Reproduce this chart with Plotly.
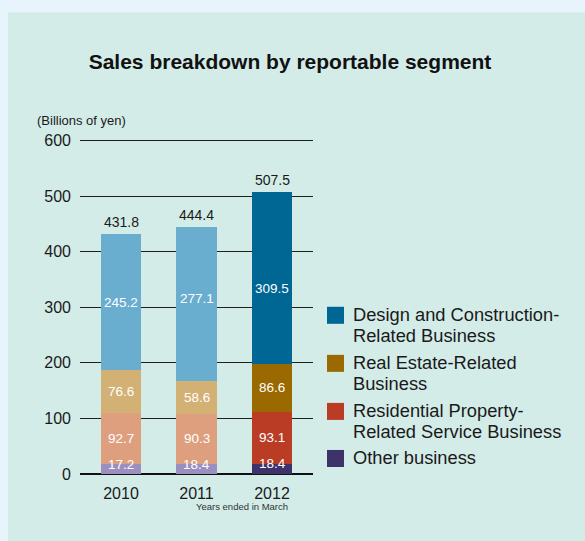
import plotly.graph_objects as go

# Fiscal years (ended in March)
years = ["2010", "2011", "2012"]

# Sales by segment, billions of yen
other_business = [17.2, 18.4, 18.4]
residential_service = [92.7, 90.3, 93.1]
real_estate = [76.6, 58.6, 86.6]
design_construction = [245.2, 277.1, 309.5]

totals = [431.8, 444.4, 507.5]
total_labels = ["431.8", "444.4", "507.5"]

y_ticks = [0, 100, 200, 300, 400, 500, 600]

segment_names = [
    "Other business",
    "Residential Property-<br>Related Service Business",
    "Real Estate-Related<br>Business",
    "Design and Construction-<br>Related Business",
]

# past years in pale tones, latest year in full tones
pale = ["#9b8fc0", "#dd9f7e", "#d3b174", "#69adcf"]
strong = ["#3d3269", "#bb3c25", "#9a6a00", "#006694"]

FONT = "Liberation Sans, Arial, Helvetica, sans-serif"

# plot area in pixels; value axis runs a little past 600 so its gridline shows
W, H = 585, 541
X0, X1 = 80, 313
Y_ZERO, Y_600 = 474, 141
Y_MAX = 610
PX_PER_UNIT = (Y_ZERO - Y_600) / 600
Y_TOP = Y_ZERO - Y_MAX * PX_PER_UNIT


def px_x(px):
    return (px - X0) / (X1 - X0)


def px_y(py):
    return (Y_ZERO - py) / (Y_ZERO - Y_TOP)


series = [other_business, residential_service, real_estate, design_construction]

fig = go.Figure()
for i, vals in enumerate(series):
    colors = [pale[i], pale[i], strong[i]]
    fig.add_trace(go.Bar(
        x=years, y=vals, name=segment_names[i].replace("<br>", " "),
        marker=dict(color=colors, line=dict(width=0)),
        width=0.53, showlegend=False, hoverinfo="skip",
    ))

annotations = []

# value labels inside each segment
label_shift = [
    [5, 4, 5],
    [0, 0, 0],
    [0, 0, 0],
    [0, 6, -11],
]
for j, yr in enumerate(years):
    base = 0.0
    for i, vals in enumerate(series):
        v = vals[j]
        annotations.append(dict(
            x=j, y=base + v / 2, xref="x", yref="y", text=f"{v:.1f}",
            showarrow=False, yshift=label_shift[i][j],
            font=dict(family=FONT, size=13.5, color="white"),
        ))
        base += v
    # total above the stack
    annotations.append(dict(
        x=j, y=base, xref="x", yref="y", text=total_labels[j],
        showarrow=False, yanchor="bottom", yshift=2,
        font=dict(family=FONT, size=14, color="#1a1a1a"),
    ))

# unit label
annotations.append(dict(
    x=px_x(35), y=px_y(121), xref="paper", yref="paper", text="(Billions of yen)",
    showarrow=False, xanchor="left", yanchor="middle",
    font=dict(family=FONT, size=13, color="#1a1a1a"),
))

# x axis note
annotations.append(dict(
    x=px_x(242), y=px_y(506), xref="paper", yref="paper", text="Years ended in March",
    showarrow=False, xanchor="center", yanchor="middle",
    font=dict(family=FONT, size=9.5, color="#333333"),
))

# legend (top to bottom: design, real estate, residential, other)
shapes = [
    dict(type="rect", xref="paper", yref="paper",
         x0=px_x(8), x1=px_x(W + 5), y0=px_y(13), y1=px_y(H + 5),
         fillcolor="#d3ece8", line=dict(width=0), layer="below"),
]
legend_items = [
    (segment_names[3], strong[3], 307),
    (segment_names[2], strong[2], 355),
    (segment_names[1], strong[1], 403),
    (segment_names[0], strong[0], 450),
]
for text, color, top in legend_items:
    shapes.append(dict(
        type="rect", xref="paper", yref="paper",
        x0=px_x(327), x1=px_x(344), y0=px_y(top + 17), y1=px_y(top),
        fillcolor=color, line=dict(width=0),
    ))
    for k, line in enumerate(text.split("<br>")):
        annotations.append(dict(
            x=px_x(351), y=px_y(top + 8 + 20.5 * k), xref="paper", yref="paper",
            text=line, showarrow=False, xanchor="left", yanchor="middle",
            font=dict(family=FONT, size=18.3, color="#1a1a1a"),
        ))

fig.update_layout(
    width=W, height=H,
    margin=dict(l=X0, r=W - X1, t=Y_TOP, b=H - Y_ZERO, pad=0),
    paper_bgcolor="#e7f4fb",
    plot_bgcolor="rgba(0,0,0,0)",
    barmode="stack",
    title=dict(
        text="<b>Sales breakdown by reportable segment</b>",
        x=290 / W, xanchor="center", y=1 - 62 / H, yanchor="middle",
        font=dict(family=FONT, size=21, color="#111111"),
    ),
    xaxis=dict(
        type="category", range=[-0.543, 2.543],
        showgrid=False, zeroline=False, showline=False, ticks="",
        tickfont=dict(family=FONT, size=16, color="#1a1a1a"),
        ticklabelstandoff=8, fixedrange=True,
    ),
    yaxis=dict(
        range=[0, Y_MAX], tickvals=y_ticks,
        showgrid=True, gridcolor="#1f1f1f", gridwidth=1.3,
        zeroline=True, zerolinecolor="#111111", zerolinewidth=1.5,
        showline=False, ticks="",
        tickfont=dict(family=FONT, size=16, color="#1a1a1a"),
        ticklabelstandoff=8, fixedrange=True,
    ),
    annotations=annotations,
    shapes=shapes,
    showlegend=False,
)

fig.write_html("out.html")
